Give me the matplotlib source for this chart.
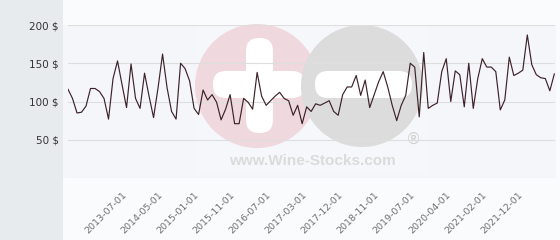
import matplotlib
matplotlib.use("Agg")
import matplotlib.pyplot as plt
from matplotlib.patches import Rectangle, Circle, FancyBboxPatch

# monthly prices (one value per point)
prices = [116, 104, 85, 86, 94, 117, 117, 113, 104, 77,
          130, 153, 122, 92, 149, 104, 91, 137, 107, 79,
          118, 162, 118, 87, 77, 150, 143, 127, 91, 83,
          115, 102, 109, 99, 76, 90, 109, 71, 71, 104,
          99, 90, 138, 107, 95, 101, 107, 112, 104, 101,
          82, 95, 71, 93, 87, 97, 95, 98, 101, 87,
          82, 109, 119, 119, 134, 108, 128, 92, 109, 126,
          139, 119, 95, 75, 95, 108, 150, 145, 80, 164,
          91, 95, 98, 139, 156, 100, 140, 135, 93, 150,
          91, 130, 156, 145, 145, 139, 89, 102, 158, 134,
          137, 141, 187, 148, 135, 131, 130, 114, 136]

tick_labels = ["2013-07-01", "2014-05-01", "2015-01-01", "2015-11-01",
               "2016-07-01", "2017-03-01", "2017-12-01", "2018-11-01",
               "2019-07-01", "2020-04-01", "2021-02-01", "2021-12-01"]
first_tick = 12
tick_step = 8

y_ticks = [0, 50, 100, 150, 200]


def draw_background(fig):
    """Grey side panel, plot background and the watermark logo."""
    bg = fig.add_axes([0, 0, 1, 1], zorder=0)
    bg.set_xlim(0, 560)
    bg.set_ylim(240, 0)
    bg.axis("off")

    bg.add_patch(Rectangle((63, 0), 497, 240, color="#fafbfc", lw=0))
    bg.add_patch(Rectangle((63, 25), 493, 153, color="#f5f6f9", lw=0))
    bg.add_patch(Rectangle((0, 0), 63, 240, color="#e8ebee", lw=0))
    bg.add_patch(Rectangle((197, 15), 230, 158, color="white", alpha=0.2, lw=0))

    # logo: pink plus and grey minus
    bg.add_patch(Circle((257, 86), 62, color="#efd8de", lw=0))
    bg.add_patch(FancyBboxPatch((246, 38), 27, 95, color="white", lw=0,
                                boxstyle="round,pad=0,rounding_size=13"))
    bg.add_patch(FancyBboxPatch((213, 71), 92, 27, color="white", lw=0,
                                boxstyle="round,pad=0,rounding_size=13"))
    bg.add_patch(Circle((362, 86), 61, color="#dcdcdd", lw=0))
    bg.add_patch(FancyBboxPatch((315, 71), 97, 27, color="white", lw=0,
                                boxstyle="round,pad=0,rounding_size=13"))
    bg.text(413, 139, "\u00ae", color="#d0d0d0", fontsize=11,
            ha="center", va="center")
    bg.text(312, 161, "www.Wine-Stocks.com", color="#dbdbdb", fontsize=11,
            fontweight="bold", family="Liberation Sans", ha="center", va="center")


def main():
    fig = plt.figure(figsize=(5.6, 2.4), dpi=100)
    draw_background(fig)

    ax = fig.add_axes([68 / 560, 1 - 178 / 240, 487 / 560, 153 / 240], zorder=1)
    ax.set_facecolor("none")
    x = list(range(len(prices)))
    ax.plot(x, prices, color="#3d2229", lw=0.85, zorder=3)

    ax.set_xlim(0, len(prices) - 1 + 0.15)
    ax.set_ylim(0, 200)
    ax.set_yticks(y_ticks)
    ax.set_yticklabels(["" if v == 0 else f"{v} $" for v in y_ticks],
                       fontsize=7.5, color="#333333")
    ticks = [first_tick + i * tick_step for i in range(len(tick_labels))]
    ax.set_xticks(ticks)
    ax.set_xticklabels(tick_labels, rotation=45, ha="right", va="top",
                       rotation_mode="anchor", fontsize=6.8, color="#707070")
    ax.tick_params(axis="x", length=0, pad=9)
    ax.tick_params(axis="y", length=0, pad=6.5)
    ax.grid(axis="y", color="#dedede", lw=0.8)
    ax.set_axisbelow(True)
    for side in ax.spines.values():
        side.set_visible(False)

    fig.savefig("out.png", dpi=100)


if __name__ == "__main__":
    main()
